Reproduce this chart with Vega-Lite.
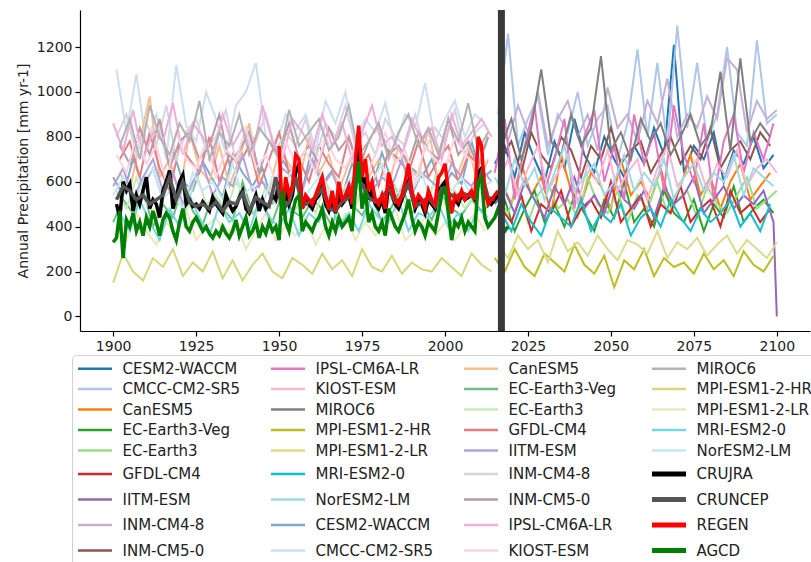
{
  "$schema": "https://vega.github.io/schema/vega-lite/v6.json",
  "width": 730,
  "height": 321,
  "autosize": {"type": "none"},
  "padding": {"left": 80, "top": 10, "right": 1, "bottom": 231},
  "config": {
    "font": "DejaVu Sans",
    "view": {"stroke": null},
    "axis": {"grid": false, "domainColor": "#000000", "tickColor": "#000000", "labelColor": "#222222", "labelFontSize": 14, "tickSize": 5, "domainWidth": 1.2, "tickWidth": 1.2, "labelPadding": 3}
  },
  "datasets": {
    "models": [
{"s":"CESM2-WACCM|h","x":1900,"y":620},{"s":"CESM2-WACCM|h","x":1903,"y":540},{"s":"CESM2-WACCM|h","x":1906,"y":700},{"s":"CESM2-WACCM|h","x":1909,"y":580},{"s":"CESM2-WACCM|h","x":1912,"y":660},{"s":"CESM2-WACCM|h","x":1915,"y":520},{"s":"CESM2-WACCM|h","x":1918,"y":740},{"s":"CESM2-WACCM|h","x":1921,"y":600},{"s":"CESM2-WACCM|h","x":1924,"y":560},{"s":"CESM2-WACCM|h","x":1927,"y":690},{"s":"CESM2-WACCM|h","x":1930,"y":610},{"s":"CESM2-WACCM|h","x":1933,"y":530},{"s":"CESM2-WACCM|h","x":1936,"y":720},{"s":"CESM2-WACCM|h","x":1939,"y":640},{"s":"CESM2-WACCM|h","x":1942,"y":580},{"s":"CESM2-WACCM|h","x":1945,"y":660},{"s":"CESM2-WACCM|h","x":1948,"y":500},{"s":"CESM2-WACCM|h","x":1951,"y":700},{"s":"CESM2-WACCM|h","x":1954,"y":620},{"s":"CESM2-WACCM|h","x":1957,"y":560},{"s":"CESM2-WACCM|h","x":1960,"y":760},{"s":"CESM2-WACCM|h","x":1963,"y":590},{"s":"CESM2-WACCM|h","x":1966,"y":650},{"s":"CESM2-WACCM|h","x":1969,"y":540},{"s":"CESM2-WACCM|h","x":1972,"y":680},{"s":"CESM2-WACCM|h","x":1975,"y":610},{"s":"CESM2-WACCM|h","x":1978,"y":570},{"s":"CESM2-WACCM|h","x":1981,"y":730},{"s":"CESM2-WACCM|h","x":1984,"y":600},{"s":"CESM2-WACCM|h","x":1987,"y":520},{"s":"CESM2-WACCM|h","x":1990,"y":660},{"s":"CESM2-WACCM|h","x":1993,"y":620},{"s":"CESM2-WACCM|h","x":1996,"y":700},{"s":"CESM2-WACCM|h","x":1999,"y":560},{"s":"CESM2-WACCM|h","x":2002,"y":640},{"s":"CESM2-WACCM|h","x":2005,"y":590},{"s":"CESM2-WACCM|h","x":2008,"y":780},{"s":"CESM2-WACCM|h","x":2011,"y":610},{"s":"CESM2-WACCM|h","x":2014,"y":650},
{"s":"CMCC-CM2-SR5|h","x":1901,"y":1100},{"s":"CMCC-CM2-SR5|h","x":1904,"y":820},{"s":"CMCC-CM2-SR5|h","x":1907,"y":1080},{"s":"CMCC-CM2-SR5|h","x":1910,"y":760},{"s":"CMCC-CM2-SR5|h","x":1913,"y":900},{"s":"CMCC-CM2-SR5|h","x":1916,"y":700},{"s":"CMCC-CM2-SR5|h","x":1919,"y":1120},{"s":"CMCC-CM2-SR5|h","x":1922,"y":850},{"s":"CMCC-CM2-SR5|h","x":1925,"y":780},{"s":"CMCC-CM2-SR5|h","x":1928,"y":1000},{"s":"CMCC-CM2-SR5|h","x":1931,"y":880},{"s":"CMCC-CM2-SR5|h","x":1934,"y":720},{"s":"CMCC-CM2-SR5|h","x":1937,"y":940},{"s":"CMCC-CM2-SR5|h","x":1940,"y":1000},{"s":"CMCC-CM2-SR5|h","x":1943,"y":1130},{"s":"CMCC-CM2-SR5|h","x":1946,"y":800},{"s":"CMCC-CM2-SR5|h","x":1949,"y":760},{"s":"CMCC-CM2-SR5|h","x":1952,"y":900},{"s":"CMCC-CM2-SR5|h","x":1955,"y":830},{"s":"CMCC-CM2-SR5|h","x":1958,"y":900},{"s":"CMCC-CM2-SR5|h","x":1961,"y":740},{"s":"CMCC-CM2-SR5|h","x":1964,"y":960},{"s":"CMCC-CM2-SR5|h","x":1967,"y":860},{"s":"CMCC-CM2-SR5|h","x":1970,"y":1000},{"s":"CMCC-CM2-SR5|h","x":1973,"y":780},{"s":"CMCC-CM2-SR5|h","x":1976,"y":880},{"s":"CMCC-CM2-SR5|h","x":1979,"y":820},{"s":"CMCC-CM2-SR5|h","x":1982,"y":950},{"s":"CMCC-CM2-SR5|h","x":1985,"y":760},{"s":"CMCC-CM2-SR5|h","x":1988,"y":900},{"s":"CMCC-CM2-SR5|h","x":1991,"y":840},{"s":"CMCC-CM2-SR5|h","x":1994,"y":1040},{"s":"CMCC-CM2-SR5|h","x":1997,"y":780},{"s":"CMCC-CM2-SR5|h","x":2000,"y":880},{"s":"CMCC-CM2-SR5|h","x":2003,"y":960},{"s":"CMCC-CM2-SR5|h","x":2006,"y":800},{"s":"CMCC-CM2-SR5|h","x":2009,"y":900},{"s":"CMCC-CM2-SR5|h","x":2012,"y":860},
{"s":"CanESM5|h","x":1902,"y":640},{"s":"CanESM5|h","x":1905,"y":560},{"s":"CanESM5|h","x":1908,"y":780},{"s":"CanESM5|h","x":1911,"y":980},{"s":"CanESM5|h","x":1914,"y":620},{"s":"CanESM5|h","x":1917,"y":700},{"s":"CanESM5|h","x":1920,"y":540},{"s":"CanESM5|h","x":1923,"y":820},{"s":"CanESM5|h","x":1926,"y":660},{"s":"CanESM5|h","x":1929,"y":600},{"s":"CanESM5|h","x":1932,"y":760},{"s":"CanESM5|h","x":1935,"y":580},{"s":"CanESM5|h","x":1938,"y":700},{"s":"CanESM5|h","x":1941,"y":860},{"s":"CanESM5|h","x":1944,"y":620},{"s":"CanESM5|h","x":1947,"y":560},{"s":"CanESM5|h","x":1950,"y":740},{"s":"CanESM5|h","x":1953,"y":680},{"s":"CanESM5|h","x":1956,"y":600},{"s":"CanESM5|h","x":1959,"y":800},{"s":"CanESM5|h","x":1962,"y":640},{"s":"CanESM5|h","x":1965,"y":720},{"s":"CanESM5|h","x":1968,"y":560},{"s":"CanESM5|h","x":1971,"y":680},{"s":"CanESM5|h","x":1974,"y":780},{"s":"CanESM5|h","x":1977,"y":620},{"s":"CanESM5|h","x":1980,"y":700},{"s":"CanESM5|h","x":1983,"y":580},{"s":"CanESM5|h","x":1986,"y":760},{"s":"CanESM5|h","x":1989,"y":660},{"s":"CanESM5|h","x":1992,"y":620},{"s":"CanESM5|h","x":1995,"y":840},{"s":"CanESM5|h","x":1998,"y":600},{"s":"CanESM5|h","x":2001,"y":700},{"s":"CanESM5|h","x":2004,"y":640},{"s":"CanESM5|h","x":2007,"y":760},{"s":"CanESM5|h","x":2010,"y":580},{"s":"CanESM5|h","x":2013,"y":700},
{"s":"EC-Earth3-Veg|h","x":1900,"y":420},{"s":"EC-Earth3-Veg|h","x":1903,"y":520},{"s":"EC-Earth3-Veg|h","x":1906,"y":460},{"s":"EC-Earth3-Veg|h","x":1909,"y":560},{"s":"EC-Earth3-Veg|h","x":1912,"y":400},{"s":"EC-Earth3-Veg|h","x":1915,"y":500},{"s":"EC-Earth3-Veg|h","x":1918,"y":440},{"s":"EC-Earth3-Veg|h","x":1921,"y":580},{"s":"EC-Earth3-Veg|h","x":1924,"y":470},{"s":"EC-Earth3-Veg|h","x":1927,"y":410},{"s":"EC-Earth3-Veg|h","x":1930,"y":540},{"s":"EC-Earth3-Veg|h","x":1933,"y":480},{"s":"EC-Earth3-Veg|h","x":1936,"y":430},{"s":"EC-Earth3-Veg|h","x":1939,"y":600},{"s":"EC-Earth3-Veg|h","x":1942,"y":460},{"s":"EC-Earth3-Veg|h","x":1945,"y":500},{"s":"EC-Earth3-Veg|h","x":1948,"y":420},{"s":"EC-Earth3-Veg|h","x":1951,"y":550},{"s":"EC-Earth3-Veg|h","x":1954,"y":470},{"s":"EC-Earth3-Veg|h","x":1957,"y":440},{"s":"EC-Earth3-Veg|h","x":1960,"y":520},{"s":"EC-Earth3-Veg|h","x":1963,"y":480},{"s":"EC-Earth3-Veg|h","x":1966,"y":400},{"s":"EC-Earth3-Veg|h","x":1969,"y":560},{"s":"EC-Earth3-Veg|h","x":1972,"y":500},{"s":"EC-Earth3-Veg|h","x":1975,"y":450},{"s":"EC-Earth3-Veg|h","x":1978,"y":530},{"s":"EC-Earth3-Veg|h","x":1981,"y":420},{"s":"EC-Earth3-Veg|h","x":1984,"y":490},{"s":"EC-Earth3-Veg|h","x":1987,"y":580},{"s":"EC-Earth3-Veg|h","x":1990,"y":460},{"s":"EC-Earth3-Veg|h","x":1993,"y":510},{"s":"EC-Earth3-Veg|h","x":1996,"y":430},{"s":"EC-Earth3-Veg|h","x":1999,"y":540},{"s":"EC-Earth3-Veg|h","x":2002,"y":480},{"s":"EC-Earth3-Veg|h","x":2005,"y":450},{"s":"EC-Earth3-Veg|h","x":2008,"y":520},{"s":"EC-Earth3-Veg|h","x":2011,"y":470},{"s":"EC-Earth3-Veg|h","x":2014,"y":500},
{"s":"EC-Earth3|h","x":1901,"y":560},{"s":"EC-Earth3|h","x":1904,"y":480},{"s":"EC-Earth3|h","x":1907,"y":620},{"s":"EC-Earth3|h","x":1910,"y":500},{"s":"EC-Earth3|h","x":1913,"y":440},{"s":"EC-Earth3|h","x":1916,"y":580},{"s":"EC-Earth3|h","x":1919,"y":520},{"s":"EC-Earth3|h","x":1922,"y":460},{"s":"EC-Earth3|h","x":1925,"y":640},{"s":"EC-Earth3|h","x":1928,"y":500},{"s":"EC-Earth3|h","x":1931,"y":540},{"s":"EC-Earth3|h","x":1934,"y":470},{"s":"EC-Earth3|h","x":1937,"y":600},{"s":"EC-Earth3|h","x":1940,"y":520},{"s":"EC-Earth3|h","x":1943,"y":450},{"s":"EC-Earth3|h","x":1946,"y":580},{"s":"EC-Earth3|h","x":1949,"y":500},{"s":"EC-Earth3|h","x":1952,"y":620},{"s":"EC-Earth3|h","x":1955,"y":480},{"s":"EC-Earth3|h","x":1958,"y":540},{"s":"EC-Earth3|h","x":1961,"y":460},{"s":"EC-Earth3|h","x":1964,"y":600},{"s":"EC-Earth3|h","x":1967,"y":510},{"s":"EC-Earth3|h","x":1970,"y":560},{"s":"EC-Earth3|h","x":1973,"y":480},{"s":"EC-Earth3|h","x":1976,"y":640},{"s":"EC-Earth3|h","x":1979,"y":520},{"s":"EC-Earth3|h","x":1982,"y":470},{"s":"EC-Earth3|h","x":1985,"y":580},{"s":"EC-Earth3|h","x":1988,"y":500},{"s":"EC-Earth3|h","x":1991,"y":540},{"s":"EC-Earth3|h","x":1994,"y":460},{"s":"EC-Earth3|h","x":1997,"y":620},{"s":"EC-Earth3|h","x":2000,"y":500},{"s":"EC-Earth3|h","x":2003,"y":560},{"s":"EC-Earth3|h","x":2006,"y":480},{"s":"EC-Earth3|h","x":2009,"y":540},{"s":"EC-Earth3|h","x":2012,"y":600},
{"s":"GFDL-CM4|h","x":1902,"y":700},{"s":"GFDL-CM4|h","x":1905,"y":780},{"s":"GFDL-CM4|h","x":1908,"y":620},{"s":"GFDL-CM4|h","x":1911,"y":820},{"s":"GFDL-CM4|h","x":1914,"y":660},{"s":"GFDL-CM4|h","x":1917,"y":560},{"s":"GFDL-CM4|h","x":1920,"y":760},{"s":"GFDL-CM4|h","x":1923,"y":700},{"s":"GFDL-CM4|h","x":1926,"y":640},{"s":"GFDL-CM4|h","x":1929,"y":800},{"s":"GFDL-CM4|h","x":1932,"y":600},{"s":"GFDL-CM4|h","x":1935,"y":720},{"s":"GFDL-CM4|h","x":1938,"y":680},{"s":"GFDL-CM4|h","x":1941,"y":760},{"s":"GFDL-CM4|h","x":1944,"y":580},{"s":"GFDL-CM4|h","x":1947,"y":700},{"s":"GFDL-CM4|h","x":1950,"y":820},{"s":"GFDL-CM4|h","x":1953,"y":640},{"s":"GFDL-CM4|h","x":1956,"y":700},{"s":"GFDL-CM4|h","x":1959,"y":600},{"s":"GFDL-CM4|h","x":1962,"y":760},{"s":"GFDL-CM4|h","x":1965,"y":680},{"s":"GFDL-CM4|h","x":1968,"y":620},{"s":"GFDL-CM4|h","x":1971,"y":800},{"s":"GFDL-CM4|h","x":1974,"y":660},{"s":"GFDL-CM4|h","x":1977,"y":720},{"s":"GFDL-CM4|h","x":1980,"y":580},{"s":"GFDL-CM4|h","x":1983,"y":740},{"s":"GFDL-CM4|h","x":1986,"y":700},{"s":"GFDL-CM4|h","x":1989,"y":640},{"s":"GFDL-CM4|h","x":1992,"y":780},{"s":"GFDL-CM4|h","x":1995,"y":620},{"s":"GFDL-CM4|h","x":1998,"y":700},{"s":"GFDL-CM4|h","x":2001,"y":760},{"s":"GFDL-CM4|h","x":2004,"y":600},{"s":"GFDL-CM4|h","x":2007,"y":720},{"s":"GFDL-CM4|h","x":2010,"y":680},{"s":"GFDL-CM4|h","x":2013,"y":800},
{"s":"IITM-ESM|h","x":1900,"y":580},{"s":"IITM-ESM|h","x":1903,"y":660},{"s":"IITM-ESM|h","x":1906,"y":520},{"s":"IITM-ESM|h","x":1909,"y":620},{"s":"IITM-ESM|h","x":1912,"y":700},{"s":"IITM-ESM|h","x":1915,"y":560},{"s":"IITM-ESM|h","x":1918,"y":640},{"s":"IITM-ESM|h","x":1921,"y":500},{"s":"IITM-ESM|h","x":1924,"y":600},{"s":"IITM-ESM|h","x":1927,"y":680},{"s":"IITM-ESM|h","x":1930,"y":540},{"s":"IITM-ESM|h","x":1933,"y":620},{"s":"IITM-ESM|h","x":1936,"y":580},{"s":"IITM-ESM|h","x":1939,"y":720},{"s":"IITM-ESM|h","x":1942,"y":560},{"s":"IITM-ESM|h","x":1945,"y":600},{"s":"IITM-ESM|h","x":1948,"y":520},{"s":"IITM-ESM|h","x":1951,"y":660},{"s":"IITM-ESM|h","x":1954,"y":620},{"s":"IITM-ESM|h","x":1957,"y":560},{"s":"IITM-ESM|h","x":1960,"y":700},{"s":"IITM-ESM|h","x":1963,"y":580},{"s":"IITM-ESM|h","x":1966,"y":640},{"s":"IITM-ESM|h","x":1969,"y":520},{"s":"IITM-ESM|h","x":1972,"y":600},{"s":"IITM-ESM|h","x":1975,"y":680},{"s":"IITM-ESM|h","x":1978,"y":560},{"s":"IITM-ESM|h","x":1981,"y":620},{"s":"IITM-ESM|h","x":1984,"y":580},{"s":"IITM-ESM|h","x":1987,"y":700},{"s":"IITM-ESM|h","x":1990,"y":540},{"s":"IITM-ESM|h","x":1993,"y":640},{"s":"IITM-ESM|h","x":1996,"y":600},{"s":"IITM-ESM|h","x":1999,"y":560},{"s":"IITM-ESM|h","x":2002,"y":680},{"s":"IITM-ESM|h","x":2005,"y":620},{"s":"IITM-ESM|h","x":2008,"y":580},{"s":"IITM-ESM|h","x":2011,"y":660},{"s":"IITM-ESM|h","x":2014,"y":600},
{"s":"INM-CM4-8|h","x":1901,"y":800},{"s":"INM-CM4-8|h","x":1904,"y":900},{"s":"INM-CM4-8|h","x":1907,"y":720},{"s":"INM-CM4-8|h","x":1910,"y":860},{"s":"INM-CM4-8|h","x":1913,"y":760},{"s":"INM-CM4-8|h","x":1916,"y":940},{"s":"INM-CM4-8|h","x":1919,"y":700},{"s":"INM-CM4-8|h","x":1922,"y":820},{"s":"INM-CM4-8|h","x":1925,"y":880},{"s":"INM-CM4-8|h","x":1928,"y":740},{"s":"INM-CM4-8|h","x":1931,"y":800},{"s":"INM-CM4-8|h","x":1934,"y":920},{"s":"INM-CM4-8|h","x":1937,"y":680},{"s":"INM-CM4-8|h","x":1940,"y":840},{"s":"INM-CM4-8|h","x":1943,"y":780},{"s":"INM-CM4-8|h","x":1946,"y":900},{"s":"INM-CM4-8|h","x":1949,"y":740},{"s":"INM-CM4-8|h","x":1952,"y":820},{"s":"INM-CM4-8|h","x":1955,"y":760},{"s":"INM-CM4-8|h","x":1958,"y":880},{"s":"INM-CM4-8|h","x":1961,"y":700},{"s":"INM-CM4-8|h","x":1964,"y":860},{"s":"INM-CM4-8|h","x":1967,"y":800},{"s":"INM-CM4-8|h","x":1970,"y":940},{"s":"INM-CM4-8|h","x":1973,"y":760},{"s":"INM-CM4-8|h","x":1976,"y":820},{"s":"INM-CM4-8|h","x":1979,"y":720},{"s":"INM-CM4-8|h","x":1982,"y":880},{"s":"INM-CM4-8|h","x":1985,"y":800},{"s":"INM-CM4-8|h","x":1988,"y":760},{"s":"INM-CM4-8|h","x":1991,"y":900},{"s":"INM-CM4-8|h","x":1994,"y":740},{"s":"INM-CM4-8|h","x":1997,"y":840},{"s":"INM-CM4-8|h","x":2000,"y":780},{"s":"INM-CM4-8|h","x":2003,"y":920},{"s":"INM-CM4-8|h","x":2006,"y":720},{"s":"INM-CM4-8|h","x":2009,"y":820},{"s":"INM-CM4-8|h","x":2012,"y":860},
{"s":"INM-CM5-0|h","x":1902,"y":760},{"s":"INM-CM5-0|h","x":1905,"y":680},{"s":"INM-CM5-0|h","x":1908,"y":840},{"s":"INM-CM5-0|h","x":1911,"y":720},{"s":"INM-CM5-0|h","x":1914,"y":880},{"s":"INM-CM5-0|h","x":1917,"y":660},{"s":"INM-CM5-0|h","x":1920,"y":780},{"s":"INM-CM5-0|h","x":1923,"y":820},{"s":"INM-CM5-0|h","x":1926,"y":700},{"s":"INM-CM5-0|h","x":1929,"y":760},{"s":"INM-CM5-0|h","x":1932,"y":900},{"s":"INM-CM5-0|h","x":1935,"y":680},{"s":"INM-CM5-0|h","x":1938,"y":740},{"s":"INM-CM5-0|h","x":1941,"y":820},{"s":"INM-CM5-0|h","x":1944,"y":640},{"s":"INM-CM5-0|h","x":1947,"y":780},{"s":"INM-CM5-0|h","x":1950,"y":720},{"s":"INM-CM5-0|h","x":1953,"y":860},{"s":"INM-CM5-0|h","x":1956,"y":700},{"s":"INM-CM5-0|h","x":1959,"y":760},{"s":"INM-CM5-0|h","x":1962,"y":680},{"s":"INM-CM5-0|h","x":1965,"y":840},{"s":"INM-CM5-0|h","x":1968,"y":740},{"s":"INM-CM5-0|h","x":1971,"y":800},{"s":"INM-CM5-0|h","x":1974,"y":660},{"s":"INM-CM5-0|h","x":1977,"y":780},{"s":"INM-CM5-0|h","x":1980,"y":860},{"s":"INM-CM5-0|h","x":1983,"y":720},{"s":"INM-CM5-0|h","x":1986,"y":760},{"s":"INM-CM5-0|h","x":1989,"y":680},{"s":"INM-CM5-0|h","x":1992,"y":820},{"s":"INM-CM5-0|h","x":1995,"y":740},{"s":"INM-CM5-0|h","x":1998,"y":700},{"s":"INM-CM5-0|h","x":2001,"y":880},{"s":"INM-CM5-0|h","x":2004,"y":720},{"s":"INM-CM5-0|h","x":2007,"y":780},{"s":"INM-CM5-0|h","x":2010,"y":660},{"s":"INM-CM5-0|h","x":2013,"y":800},
{"s":"IPSL-CM6A-LR|h","x":1900,"y":860},{"s":"IPSL-CM6A-LR|h","x":1903,"y":740},{"s":"IPSL-CM6A-LR|h","x":1906,"y":920},{"s":"IPSL-CM6A-LR|h","x":1909,"y":700},{"s":"IPSL-CM6A-LR|h","x":1912,"y":820},{"s":"IPSL-CM6A-LR|h","x":1915,"y":780},{"s":"IPSL-CM6A-LR|h","x":1918,"y":950},{"s":"IPSL-CM6A-LR|h","x":1921,"y":720},{"s":"IPSL-CM6A-LR|h","x":1924,"y":860},{"s":"IPSL-CM6A-LR|h","x":1927,"y":800},{"s":"IPSL-CM6A-LR|h","x":1930,"y":680},{"s":"IPSL-CM6A-LR|h","x":1933,"y":900},{"s":"IPSL-CM6A-LR|h","x":1936,"y":760},{"s":"IPSL-CM6A-LR|h","x":1939,"y":840},{"s":"IPSL-CM6A-LR|h","x":1942,"y":720},{"s":"IPSL-CM6A-LR|h","x":1945,"y":940},{"s":"IPSL-CM6A-LR|h","x":1948,"y":780},{"s":"IPSL-CM6A-LR|h","x":1951,"y":700},{"s":"IPSL-CM6A-LR|h","x":1954,"y":880},{"s":"IPSL-CM6A-LR|h","x":1957,"y":820},{"s":"IPSL-CM6A-LR|h","x":1960,"y":740},{"s":"IPSL-CM6A-LR|h","x":1963,"y":900},{"s":"IPSL-CM6A-LR|h","x":1966,"y":760},{"s":"IPSL-CM6A-LR|h","x":1969,"y":860},{"s":"IPSL-CM6A-LR|h","x":1972,"y":700},{"s":"IPSL-CM6A-LR|h","x":1975,"y":820},{"s":"IPSL-CM6A-LR|h","x":1978,"y":940},{"s":"IPSL-CM6A-LR|h","x":1981,"y":760},{"s":"IPSL-CM6A-LR|h","x":1984,"y":800},{"s":"IPSL-CM6A-LR|h","x":1987,"y":720},{"s":"IPSL-CM6A-LR|h","x":1990,"y":880},{"s":"IPSL-CM6A-LR|h","x":1993,"y":780},{"s":"IPSL-CM6A-LR|h","x":1996,"y":840},{"s":"IPSL-CM6A-LR|h","x":1999,"y":700},{"s":"IPSL-CM6A-LR|h","x":2002,"y":900},{"s":"IPSL-CM6A-LR|h","x":2005,"y":760},{"s":"IPSL-CM6A-LR|h","x":2008,"y":820},{"s":"IPSL-CM6A-LR|h","x":2011,"y":880},{"s":"IPSL-CM6A-LR|h","x":2014,"y":800},
{"s":"KIOST-ESM|h","x":1901,"y":720},{"s":"KIOST-ESM|h","x":1904,"y":640},{"s":"KIOST-ESM|h","x":1907,"y":800},{"s":"KIOST-ESM|h","x":1910,"y":680},{"s":"KIOST-ESM|h","x":1913,"y":760},{"s":"KIOST-ESM|h","x":1916,"y":600},{"s":"KIOST-ESM|h","x":1919,"y":820},{"s":"KIOST-ESM|h","x":1922,"y":700},{"s":"KIOST-ESM|h","x":1925,"y":660},{"s":"KIOST-ESM|h","x":1928,"y":780},{"s":"KIOST-ESM|h","x":1931,"y":620},{"s":"KIOST-ESM|h","x":1934,"y":740},{"s":"KIOST-ESM|h","x":1937,"y":700},{"s":"KIOST-ESM|h","x":1940,"y":840},{"s":"KIOST-ESM|h","x":1943,"y":660},{"s":"KIOST-ESM|h","x":1946,"y":720},{"s":"KIOST-ESM|h","x":1949,"y":600},{"s":"KIOST-ESM|h","x":1952,"y":780},{"s":"KIOST-ESM|h","x":1955,"y":680},{"s":"KIOST-ESM|h","x":1958,"y":740},{"s":"KIOST-ESM|h","x":1961,"y":640},{"s":"KIOST-ESM|h","x":1964,"y":800},{"s":"KIOST-ESM|h","x":1967,"y":700},{"s":"KIOST-ESM|h","x":1970,"y":660},{"s":"KIOST-ESM|h","x":1973,"y":760},{"s":"KIOST-ESM|h","x":1976,"y":620},{"s":"KIOST-ESM|h","x":1979,"y":720},{"s":"KIOST-ESM|h","x":1982,"y":820},{"s":"KIOST-ESM|h","x":1985,"y":680},{"s":"KIOST-ESM|h","x":1988,"y":740},{"s":"KIOST-ESM|h","x":1991,"y":600},{"s":"KIOST-ESM|h","x":1994,"y":760},{"s":"KIOST-ESM|h","x":1997,"y":700},{"s":"KIOST-ESM|h","x":2000,"y":660},{"s":"KIOST-ESM|h","x":2003,"y":800},{"s":"KIOST-ESM|h","x":2006,"y":720},{"s":"KIOST-ESM|h","x":2009,"y":680},{"s":"KIOST-ESM|h","x":2012,"y":740},
{"s":"MIROC6|h","x":1902,"y":760},{"s":"MIROC6|h","x":1905,"y":880},{"s":"MIROC6|h","x":1908,"y":700},{"s":"MIROC6|h","x":1911,"y":940},{"s":"MIROC6|h","x":1914,"y":800},{"s":"MIROC6|h","x":1917,"y":720},{"s":"MIROC6|h","x":1920,"y":860},{"s":"MIROC6|h","x":1923,"y":780},{"s":"MIROC6|h","x":1926,"y":960},{"s":"MIROC6|h","x":1929,"y":700},{"s":"MIROC6|h","x":1932,"y":820},{"s":"MIROC6|h","x":1935,"y":760},{"s":"MIROC6|h","x":1938,"y":900},{"s":"MIROC6|h","x":1941,"y":720},{"s":"MIROC6|h","x":1944,"y":840},{"s":"MIROC6|h","x":1947,"y":780},{"s":"MIROC6|h","x":1950,"y":700},{"s":"MIROC6|h","x":1953,"y":920},{"s":"MIROC6|h","x":1956,"y":760},{"s":"MIROC6|h","x":1959,"y":820},{"s":"MIROC6|h","x":1962,"y":880},{"s":"MIROC6|h","x":1965,"y":740},{"s":"MIROC6|h","x":1968,"y":800},{"s":"MIROC6|h","x":1971,"y":940},{"s":"MIROC6|h","x":1974,"y":720},{"s":"MIROC6|h","x":1977,"y":780},{"s":"MIROC6|h","x":1980,"y":860},{"s":"MIROC6|h","x":1983,"y":700},{"s":"MIROC6|h","x":1986,"y":820},{"s":"MIROC6|h","x":1989,"y":900},{"s":"MIROC6|h","x":1992,"y":760},{"s":"MIROC6|h","x":1995,"y":840},{"s":"MIROC6|h","x":1998,"y":720},{"s":"MIROC6|h","x":2001,"y":880},{"s":"MIROC6|h","x":2004,"y":780},{"s":"MIROC6|h","x":2007,"y":950},{"s":"MIROC6|h","x":2010,"y":740},{"s":"MIROC6|h","x":2013,"y":820},
{"s":"MPI-ESM1-2-HR|h","x":1900,"y":150},{"s":"MPI-ESM1-2-HR|h","x":1903,"y":280},{"s":"MPI-ESM1-2-HR|h","x":1906,"y":200},{"s":"MPI-ESM1-2-HR|h","x":1909,"y":160},{"s":"MPI-ESM1-2-HR|h","x":1912,"y":260},{"s":"MPI-ESM1-2-HR|h","x":1915,"y":220},{"s":"MPI-ESM1-2-HR|h","x":1918,"y":300},{"s":"MPI-ESM1-2-HR|h","x":1921,"y":180},{"s":"MPI-ESM1-2-HR|h","x":1924,"y":240},{"s":"MPI-ESM1-2-HR|h","x":1927,"y":200},{"s":"MPI-ESM1-2-HR|h","x":1930,"y":290},{"s":"MPI-ESM1-2-HR|h","x":1933,"y":170},{"s":"MPI-ESM1-2-HR|h","x":1936,"y":250},{"s":"MPI-ESM1-2-HR|h","x":1939,"y":160},{"s":"MPI-ESM1-2-HR|h","x":1942,"y":230},{"s":"MPI-ESM1-2-HR|h","x":1945,"y":280},{"s":"MPI-ESM1-2-HR|h","x":1948,"y":200},{"s":"MPI-ESM1-2-HR|h","x":1951,"y":170},{"s":"MPI-ESM1-2-HR|h","x":1954,"y":260},{"s":"MPI-ESM1-2-HR|h","x":1957,"y":230},{"s":"MPI-ESM1-2-HR|h","x":1960,"y":190},{"s":"MPI-ESM1-2-HR|h","x":1963,"y":280},{"s":"MPI-ESM1-2-HR|h","x":1966,"y":210},{"s":"MPI-ESM1-2-HR|h","x":1969,"y":250},{"s":"MPI-ESM1-2-HR|h","x":1972,"y":180},{"s":"MPI-ESM1-2-HR|h","x":1975,"y":300},{"s":"MPI-ESM1-2-HR|h","x":1978,"y":220},{"s":"MPI-ESM1-2-HR|h","x":1981,"y":200},{"s":"MPI-ESM1-2-HR|h","x":1984,"y":270},{"s":"MPI-ESM1-2-HR|h","x":1987,"y":190},{"s":"MPI-ESM1-2-HR|h","x":1990,"y":240},{"s":"MPI-ESM1-2-HR|h","x":1993,"y":210},{"s":"MPI-ESM1-2-HR|h","x":1996,"y":200},{"s":"MPI-ESM1-2-HR|h","x":1999,"y":260},{"s":"MPI-ESM1-2-HR|h","x":2002,"y":220},{"s":"MPI-ESM1-2-HR|h","x":2005,"y":180},{"s":"MPI-ESM1-2-HR|h","x":2008,"y":280},{"s":"MPI-ESM1-2-HR|h","x":2011,"y":230},{"s":"MPI-ESM1-2-HR|h","x":2014,"y":200},
{"s":"MPI-ESM1-2-LR|h","x":1901,"y":400},{"s":"MPI-ESM1-2-LR|h","x":1904,"y":340},{"s":"MPI-ESM1-2-LR|h","x":1907,"y":460},{"s":"MPI-ESM1-2-LR|h","x":1910,"y":380},{"s":"MPI-ESM1-2-LR|h","x":1913,"y":320},{"s":"MPI-ESM1-2-LR|h","x":1916,"y":420},{"s":"MPI-ESM1-2-LR|h","x":1919,"y":360},{"s":"MPI-ESM1-2-LR|h","x":1922,"y":480},{"s":"MPI-ESM1-2-LR|h","x":1925,"y":340},{"s":"MPI-ESM1-2-LR|h","x":1928,"y":400},{"s":"MPI-ESM1-2-LR|h","x":1931,"y":440},{"s":"MPI-ESM1-2-LR|h","x":1934,"y":360},{"s":"MPI-ESM1-2-LR|h","x":1937,"y":420},{"s":"MPI-ESM1-2-LR|h","x":1940,"y":300},{"s":"MPI-ESM1-2-LR|h","x":1943,"y":380},{"s":"MPI-ESM1-2-LR|h","x":1946,"y":460},{"s":"MPI-ESM1-2-LR|h","x":1949,"y":340},{"s":"MPI-ESM1-2-LR|h","x":1952,"y":400},{"s":"MPI-ESM1-2-LR|h","x":1955,"y":360},{"s":"MPI-ESM1-2-LR|h","x":1958,"y":440},{"s":"MPI-ESM1-2-LR|h","x":1961,"y":320},{"s":"MPI-ESM1-2-LR|h","x":1964,"y":400},{"s":"MPI-ESM1-2-LR|h","x":1967,"y":380},{"s":"MPI-ESM1-2-LR|h","x":1970,"y":460},{"s":"MPI-ESM1-2-LR|h","x":1973,"y":340},{"s":"MPI-ESM1-2-LR|h","x":1976,"y":420},{"s":"MPI-ESM1-2-LR|h","x":1979,"y":360},{"s":"MPI-ESM1-2-LR|h","x":1982,"y":400},{"s":"MPI-ESM1-2-LR|h","x":1985,"y":480},{"s":"MPI-ESM1-2-LR|h","x":1988,"y":340},{"s":"MPI-ESM1-2-LR|h","x":1991,"y":380},{"s":"MPI-ESM1-2-LR|h","x":1994,"y":440},{"s":"MPI-ESM1-2-LR|h","x":1997,"y":360},{"s":"MPI-ESM1-2-LR|h","x":2000,"y":420},{"s":"MPI-ESM1-2-LR|h","x":2003,"y":340},{"s":"MPI-ESM1-2-LR|h","x":2006,"y":400},{"s":"MPI-ESM1-2-LR|h","x":2009,"y":460},{"s":"MPI-ESM1-2-LR|h","x":2012,"y":380},
{"s":"MRI-ESM2-0|h","x":1902,"y":460},{"s":"MRI-ESM2-0|h","x":1905,"y":380},{"s":"MRI-ESM2-0|h","x":1908,"y":520},{"s":"MRI-ESM2-0|h","x":1911,"y":420},{"s":"MRI-ESM2-0|h","x":1914,"y":340},{"s":"MRI-ESM2-0|h","x":1917,"y":480},{"s":"MRI-ESM2-0|h","x":1920,"y":400},{"s":"MRI-ESM2-0|h","x":1923,"y":540},{"s":"MRI-ESM2-0|h","x":1926,"y":440},{"s":"MRI-ESM2-0|h","x":1929,"y":360},{"s":"MRI-ESM2-0|h","x":1932,"y":500},{"s":"MRI-ESM2-0|h","x":1935,"y":420},{"s":"MRI-ESM2-0|h","x":1938,"y":460},{"s":"MRI-ESM2-0|h","x":1941,"y":380},{"s":"MRI-ESM2-0|h","x":1944,"y":520},{"s":"MRI-ESM2-0|h","x":1947,"y":440},{"s":"MRI-ESM2-0|h","x":1950,"y":400},{"s":"MRI-ESM2-0|h","x":1953,"y":480},{"s":"MRI-ESM2-0|h","x":1956,"y":360},{"s":"MRI-ESM2-0|h","x":1959,"y":460},{"s":"MRI-ESM2-0|h","x":1962,"y":420},{"s":"MRI-ESM2-0|h","x":1965,"y":540},{"s":"MRI-ESM2-0|h","x":1968,"y":400},{"s":"MRI-ESM2-0|h","x":1971,"y":460},{"s":"MRI-ESM2-0|h","x":1974,"y":380},{"s":"MRI-ESM2-0|h","x":1977,"y":500},{"s":"MRI-ESM2-0|h","x":1980,"y":440},{"s":"MRI-ESM2-0|h","x":1983,"y":420},{"s":"MRI-ESM2-0|h","x":1986,"y":520},{"s":"MRI-ESM2-0|h","x":1989,"y":380},{"s":"MRI-ESM2-0|h","x":1992,"y":460},{"s":"MRI-ESM2-0|h","x":1995,"y":440},{"s":"MRI-ESM2-0|h","x":1998,"y":500},{"s":"MRI-ESM2-0|h","x":2001,"y":400},{"s":"MRI-ESM2-0|h","x":2004,"y":460},{"s":"MRI-ESM2-0|h","x":2007,"y":380},{"s":"MRI-ESM2-0|h","x":2010,"y":480},{"s":"MRI-ESM2-0|h","x":2013,"y":440},
{"s":"NorESM2-LM|h","x":1900,"y":540},{"s":"NorESM2-LM|h","x":1903,"y":620},{"s":"NorESM2-LM|h","x":1906,"y":500},{"s":"NorESM2-LM|h","x":1909,"y":600},{"s":"NorESM2-LM|h","x":1912,"y":660},{"s":"NorESM2-LM|h","x":1915,"y":520},{"s":"NorESM2-LM|h","x":1918,"y":580},{"s":"NorESM2-LM|h","x":1921,"y":480},{"s":"NorESM2-LM|h","x":1924,"y":640},{"s":"NorESM2-LM|h","x":1927,"y":560},{"s":"NorESM2-LM|h","x":1930,"y":600},{"s":"NorESM2-LM|h","x":1933,"y":520},{"s":"NorESM2-LM|h","x":1936,"y":680},{"s":"NorESM2-LM|h","x":1939,"y":540},{"s":"NorESM2-LM|h","x":1942,"y":580},{"s":"NorESM2-LM|h","x":1945,"y":500},{"s":"NorESM2-LM|h","x":1948,"y":620},{"s":"NorESM2-LM|h","x":1951,"y":560},{"s":"NorESM2-LM|h","x":1954,"y":660},{"s":"NorESM2-LM|h","x":1957,"y":520},{"s":"NorESM2-LM|h","x":1960,"y":580},{"s":"NorESM2-LM|h","x":1963,"y":640},{"s":"NorESM2-LM|h","x":1966,"y":500},{"s":"NorESM2-LM|h","x":1969,"y":560},{"s":"NorESM2-LM|h","x":1972,"y":620},{"s":"NorESM2-LM|h","x":1975,"y":540},{"s":"NorESM2-LM|h","x":1978,"y":600},{"s":"NorESM2-LM|h","x":1981,"y":680},{"s":"NorESM2-LM|h","x":1984,"y":520},{"s":"NorESM2-LM|h","x":1987,"y":580},{"s":"NorESM2-LM|h","x":1990,"y":560},{"s":"NorESM2-LM|h","x":1993,"y":640},{"s":"NorESM2-LM|h","x":1996,"y":500},{"s":"NorESM2-LM|h","x":1999,"y":600},{"s":"NorESM2-LM|h","x":2002,"y":560},{"s":"NorESM2-LM|h","x":2005,"y":620},{"s":"NorESM2-LM|h","x":2008,"y":540},{"s":"NorESM2-LM|h","x":2011,"y":580},{"s":"NorESM2-LM|h","x":2014,"y":600},
{"s":"CESM2-WACCM","x":2015,"y":680},{"s":"CESM2-WACCM","x":2018,"y":760},{"s":"CESM2-WACCM","x":2021,"y":620},{"s":"CESM2-WACCM","x":2024,"y":820},{"s":"CESM2-WACCM","x":2027,"y":700},{"s":"CESM2-WACCM","x":2030,"y":600},{"s":"CESM2-WACCM","x":2033,"y":780},{"s":"CESM2-WACCM","x":2036,"y":660},{"s":"CESM2-WACCM","x":2039,"y":880},{"s":"CESM2-WACCM","x":2042,"y":720},{"s":"CESM2-WACCM","x":2045,"y":640},{"s":"CESM2-WACCM","x":2048,"y":800},{"s":"CESM2-WACCM","x":2051,"y":700},{"s":"CESM2-WACCM","x":2054,"y":620},{"s":"CESM2-WACCM","x":2057,"y":760},{"s":"CESM2-WACCM","x":2060,"y":680},{"s":"CESM2-WACCM","x":2063,"y":840},{"s":"CESM2-WACCM","x":2066,"y":720},{"s":"CESM2-WACCM","x":2069,"y":1210},{"s":"CESM2-WACCM","x":2072,"y":640},{"s":"CESM2-WACCM","x":2075,"y":760},{"s":"CESM2-WACCM","x":2078,"y":700},{"s":"CESM2-WACCM","x":2081,"y":820},{"s":"CESM2-WACCM","x":2084,"y":600},{"s":"CESM2-WACCM","x":2087,"y":740},{"s":"CESM2-WACCM","x":2090,"y":680},{"s":"CESM2-WACCM","x":2093,"y":800},{"s":"CESM2-WACCM","x":2096,"y":660},{"s":"CESM2-WACCM","x":2099,"y":720},
{"s":"CMCC-CM2-SR5","x":2016,"y":900},{"s":"CMCC-CM2-SR5","x":2019,"y":1260},{"s":"CMCC-CM2-SR5","x":2022,"y":760},{"s":"CMCC-CM2-SR5","x":2025,"y":880},{"s":"CMCC-CM2-SR5","x":2028,"y":980},{"s":"CMCC-CM2-SR5","x":2031,"y":720},{"s":"CMCC-CM2-SR5","x":2034,"y":900},{"s":"CMCC-CM2-SR5","x":2037,"y":820},{"s":"CMCC-CM2-SR5","x":2040,"y":1000},{"s":"CMCC-CM2-SR5","x":2043,"y":760},{"s":"CMCC-CM2-SR5","x":2046,"y":880},{"s":"CMCC-CM2-SR5","x":2049,"y":940},{"s":"CMCC-CM2-SR5","x":2052,"y":700},{"s":"CMCC-CM2-SR5","x":2055,"y":860},{"s":"CMCC-CM2-SR5","x":2058,"y":1190},{"s":"CMCC-CM2-SR5","x":2061,"y":800},{"s":"CMCC-CM2-SR5","x":2064,"y":1130},{"s":"CMCC-CM2-SR5","x":2067,"y":760},{"s":"CMCC-CM2-SR5","x":2070,"y":1296},{"s":"CMCC-CM2-SR5","x":2073,"y":840},{"s":"CMCC-CM2-SR5","x":2076,"y":1130},{"s":"CMCC-CM2-SR5","x":2079,"y":780},{"s":"CMCC-CM2-SR5","x":2082,"y":900},{"s":"CMCC-CM2-SR5","x":2085,"y":1200},{"s":"CMCC-CM2-SR5","x":2088,"y":820},{"s":"CMCC-CM2-SR5","x":2091,"y":760},{"s":"CMCC-CM2-SR5","x":2094,"y":1230},{"s":"CMCC-CM2-SR5","x":2097,"y":860},{"s":"CMCC-CM2-SR5","x":2100,"y":900},
{"s":"CanESM5","x":2017,"y":600},{"s":"CanESM5","x":2020,"y":500},{"s":"CanESM5","x":2023,"y":680},{"s":"CanESM5","x":2026,"y":540},{"s":"CanESM5","x":2029,"y":620},{"s":"CanESM5","x":2032,"y":460},{"s":"CanESM5","x":2035,"y":720},{"s":"CanESM5","x":2038,"y":560},{"s":"CanESM5","x":2041,"y":500},{"s":"CanESM5","x":2044,"y":640},{"s":"CanESM5","x":2047,"y":580},{"s":"CanESM5","x":2050,"y":480},{"s":"CanESM5","x":2053,"y":700},{"s":"CanESM5","x":2056,"y":540},{"s":"CanESM5","x":2059,"y":600},{"s":"CanESM5","x":2062,"y":520},{"s":"CanESM5","x":2065,"y":660},{"s":"CanESM5","x":2068,"y":500},{"s":"CanESM5","x":2071,"y":580},{"s":"CanESM5","x":2074,"y":720},{"s":"CanESM5","x":2077,"y":540},{"s":"CanESM5","x":2080,"y":620},{"s":"CanESM5","x":2083,"y":480},{"s":"CanESM5","x":2086,"y":600},{"s":"CanESM5","x":2089,"y":680},{"s":"CanESM5","x":2092,"y":520},{"s":"CanESM5","x":2095,"y":580},{"s":"CanESM5","x":2098,"y":640},
{"s":"EC-Earth3-Veg","x":2015,"y":440},{"s":"EC-Earth3-Veg","x":2018,"y":520},{"s":"EC-Earth3-Veg","x":2021,"y":380},{"s":"EC-Earth3-Veg","x":2024,"y":480},{"s":"EC-Earth3-Veg","x":2027,"y":560},{"s":"EC-Earth3-Veg","x":2030,"y":420},{"s":"EC-Earth3-Veg","x":2033,"y":500},{"s":"EC-Earth3-Veg","x":2036,"y":400},{"s":"EC-Earth3-Veg","x":2039,"y":540},{"s":"EC-Earth3-Veg","x":2042,"y":460},{"s":"EC-Earth3-Veg","x":2045,"y":380},{"s":"EC-Earth3-Veg","x":2048,"y":520},{"s":"EC-Earth3-Veg","x":2051,"y":440},{"s":"EC-Earth3-Veg","x":2054,"y":600},{"s":"EC-Earth3-Veg","x":2057,"y":420},{"s":"EC-Earth3-Veg","x":2060,"y":480},{"s":"EC-Earth3-Veg","x":2063,"y":400},{"s":"EC-Earth3-Veg","x":2066,"y":560},{"s":"EC-Earth3-Veg","x":2069,"y":460},{"s":"EC-Earth3-Veg","x":2072,"y":420},{"s":"EC-Earth3-Veg","x":2075,"y":520},{"s":"EC-Earth3-Veg","x":2078,"y":380},{"s":"EC-Earth3-Veg","x":2081,"y":500},{"s":"EC-Earth3-Veg","x":2084,"y":440},{"s":"EC-Earth3-Veg","x":2087,"y":580},{"s":"EC-Earth3-Veg","x":2090,"y":420},{"s":"EC-Earth3-Veg","x":2093,"y":480},{"s":"EC-Earth3-Veg","x":2096,"y":520},{"s":"EC-Earth3-Veg","x":2099,"y":460},
{"s":"EC-Earth3","x":2016,"y":520},{"s":"EC-Earth3","x":2019,"y":460},{"s":"EC-Earth3","x":2022,"y":580},{"s":"EC-Earth3","x":2025,"y":420},{"s":"EC-Earth3","x":2028,"y":540},{"s":"EC-Earth3","x":2031,"y":600},{"s":"EC-Earth3","x":2034,"y":480},{"s":"EC-Earth3","x":2037,"y":520},{"s":"EC-Earth3","x":2040,"y":440},{"s":"EC-Earth3","x":2043,"y":620},{"s":"EC-Earth3","x":2046,"y":500},{"s":"EC-Earth3","x":2049,"y":460},{"s":"EC-Earth3","x":2052,"y":560},{"s":"EC-Earth3","x":2055,"y":420},{"s":"EC-Earth3","x":2058,"y":540},{"s":"EC-Earth3","x":2061,"y":480},{"s":"EC-Earth3","x":2064,"y":600},{"s":"EC-Earth3","x":2067,"y":460},{"s":"EC-Earth3","x":2070,"y":520},{"s":"EC-Earth3","x":2073,"y":560},{"s":"EC-Earth3","x":2076,"y":440},{"s":"EC-Earth3","x":2079,"y":580},{"s":"EC-Earth3","x":2082,"y":500},{"s":"EC-Earth3","x":2085,"y":460},{"s":"EC-Earth3","x":2088,"y":540},{"s":"EC-Earth3","x":2091,"y":620},{"s":"EC-Earth3","x":2094,"y":480},{"s":"EC-Earth3","x":2097,"y":520},{"s":"EC-Earth3","x":2100,"y":560},
{"s":"GFDL-CM4","x":2017,"y":480},{"s":"GFDL-CM4","x":2020,"y":420},{"s":"GFDL-CM4","x":2023,"y":540},{"s":"GFDL-CM4","x":2026,"y":380},{"s":"GFDL-CM4","x":2029,"y":500},{"s":"GFDL-CM4","x":2032,"y":460},{"s":"GFDL-CM4","x":2035,"y":560},{"s":"GFDL-CM4","x":2038,"y":400},{"s":"GFDL-CM4","x":2041,"y":480},{"s":"GFDL-CM4","x":2044,"y":520},{"s":"GFDL-CM4","x":2047,"y":440},{"s":"GFDL-CM4","x":2050,"y":600},{"s":"GFDL-CM4","x":2053,"y":420},{"s":"GFDL-CM4","x":2056,"y":480},{"s":"GFDL-CM4","x":2059,"y":540},{"s":"GFDL-CM4","x":2062,"y":400},{"s":"GFDL-CM4","x":2065,"y":500},{"s":"GFDL-CM4","x":2068,"y":460},{"s":"GFDL-CM4","x":2071,"y":580},{"s":"GFDL-CM4","x":2074,"y":420},{"s":"GFDL-CM4","x":2077,"y":480},{"s":"GFDL-CM4","x":2080,"y":520},{"s":"GFDL-CM4","x":2083,"y":400},{"s":"GFDL-CM4","x":2086,"y":560},{"s":"GFDL-CM4","x":2089,"y":460},{"s":"GFDL-CM4","x":2092,"y":500},{"s":"GFDL-CM4","x":2095,"y":420},{"s":"GFDL-CM4","x":2098,"y":480},
{"s":"IITM-ESM","x":2015,"y":500},{"s":"IITM-ESM","x":2018,"y":560},{"s":"IITM-ESM","x":2021,"y":460},{"s":"IITM-ESM","x":2024,"y":600},{"s":"IITM-ESM","x":2027,"y":520},{"s":"IITM-ESM","x":2030,"y":440},{"s":"IITM-ESM","x":2033,"y":580},{"s":"IITM-ESM","x":2036,"y":500},{"s":"IITM-ESM","x":2039,"y":620},{"s":"IITM-ESM","x":2042,"y":480},{"s":"IITM-ESM","x":2045,"y":540},{"s":"IITM-ESM","x":2048,"y":460},{"s":"IITM-ESM","x":2051,"y":600},{"s":"IITM-ESM","x":2054,"y":520},{"s":"IITM-ESM","x":2057,"y":480},{"s":"IITM-ESM","x":2060,"y":560},{"s":"IITM-ESM","x":2063,"y":440},{"s":"IITM-ESM","x":2066,"y":580},{"s":"IITM-ESM","x":2069,"y":500},{"s":"IITM-ESM","x":2072,"y":540},{"s":"IITM-ESM","x":2075,"y":620},{"s":"IITM-ESM","x":2078,"y":460},{"s":"IITM-ESM","x":2081,"y":520},{"s":"IITM-ESM","x":2084,"y":580},{"s":"IITM-ESM","x":2087,"y":480},{"s":"IITM-ESM","x":2090,"y":540},{"s":"IITM-ESM","x":2093,"y":500},{"s":"IITM-ESM","x":2096,"y":560},{"s":"IITM-ESM","x":2099,"y":420},{"s":"IITM-ESM","x":2100,"y":0},
{"s":"INM-CM4-8","x":2016,"y":860},{"s":"INM-CM4-8","x":2019,"y":780},{"s":"INM-CM4-8","x":2022,"y":940},{"s":"INM-CM4-8","x":2025,"y":820},{"s":"INM-CM4-8","x":2028,"y":1000},{"s":"INM-CM4-8","x":2031,"y":760},{"s":"INM-CM4-8","x":2034,"y":880},{"s":"INM-CM4-8","x":2037,"y":960},{"s":"INM-CM4-8","x":2040,"y":800},{"s":"INM-CM4-8","x":2043,"y":900},{"s":"INM-CM4-8","x":2046,"y":740},{"s":"INM-CM4-8","x":2049,"y":1020},{"s":"INM-CM4-8","x":2052,"y":840},{"s":"INM-CM4-8","x":2055,"y":900},{"s":"INM-CM4-8","x":2058,"y":780},{"s":"INM-CM4-8","x":2061,"y":960},{"s":"INM-CM4-8","x":2064,"y":860},{"s":"INM-CM4-8","x":2067,"y":1060},{"s":"INM-CM4-8","x":2070,"y":800},{"s":"INM-CM4-8","x":2073,"y":900},{"s":"INM-CM4-8","x":2076,"y":840},{"s":"INM-CM4-8","x":2079,"y":980},{"s":"INM-CM4-8","x":2082,"y":880},{"s":"INM-CM4-8","x":2085,"y":1150},{"s":"INM-CM4-8","x":2088,"y":1100},{"s":"INM-CM4-8","x":2091,"y":820},{"s":"INM-CM4-8","x":2094,"y":960},{"s":"INM-CM4-8","x":2097,"y":880},{"s":"INM-CM4-8","x":2100,"y":920},
{"s":"INM-CM5-0","x":2017,"y":700},{"s":"INM-CM5-0","x":2020,"y":780},{"s":"INM-CM5-0","x":2023,"y":640},{"s":"INM-CM5-0","x":2026,"y":820},{"s":"INM-CM5-0","x":2029,"y":720},{"s":"INM-CM5-0","x":2032,"y":660},{"s":"INM-CM5-0","x":2035,"y":800},{"s":"INM-CM5-0","x":2038,"y":740},{"s":"INM-CM5-0","x":2041,"y":620},{"s":"INM-CM5-0","x":2044,"y":760},{"s":"INM-CM5-0","x":2047,"y":700},{"s":"INM-CM5-0","x":2050,"y":840},{"s":"INM-CM5-0","x":2053,"y":680},{"s":"INM-CM5-0","x":2056,"y":740},{"s":"INM-CM5-0","x":2059,"y":780},{"s":"INM-CM5-0","x":2062,"y":640},{"s":"INM-CM5-0","x":2065,"y":720},{"s":"INM-CM5-0","x":2068,"y":800},{"s":"INM-CM5-0","x":2071,"y":680},{"s":"INM-CM5-0","x":2074,"y":760},{"s":"INM-CM5-0","x":2077,"y":700},{"s":"INM-CM5-0","x":2080,"y":840},{"s":"INM-CM5-0","x":2083,"y":660},{"s":"INM-CM5-0","x":2086,"y":740},{"s":"INM-CM5-0","x":2089,"y":780},{"s":"INM-CM5-0","x":2092,"y":700},{"s":"INM-CM5-0","x":2095,"y":820},{"s":"INM-CM5-0","x":2098,"y":760},
{"s":"IPSL-CM6A-LR","x":2015,"y":640},{"s":"IPSL-CM6A-LR","x":2018,"y":880},{"s":"IPSL-CM6A-LR","x":2021,"y":520},{"s":"IPSL-CM6A-LR","x":2024,"y":760},{"s":"IPSL-CM6A-LR","x":2027,"y":940},{"s":"IPSL-CM6A-LR","x":2030,"y":560},{"s":"IPSL-CM6A-LR","x":2033,"y":700},{"s":"IPSL-CM6A-LR","x":2036,"y":880},{"s":"IPSL-CM6A-LR","x":2039,"y":480},{"s":"IPSL-CM6A-LR","x":2042,"y":800},{"s":"IPSL-CM6A-LR","x":2045,"y":920},{"s":"IPSL-CM6A-LR","x":2048,"y":600},{"s":"IPSL-CM6A-LR","x":2051,"y":760},{"s":"IPSL-CM6A-LR","x":2054,"y":520},{"s":"IPSL-CM6A-LR","x":2057,"y":900},{"s":"IPSL-CM6A-LR","x":2060,"y":680},{"s":"IPSL-CM6A-LR","x":2063,"y":820},{"s":"IPSL-CM6A-LR","x":2066,"y":560},{"s":"IPSL-CM6A-LR","x":2069,"y":940},{"s":"IPSL-CM6A-LR","x":2072,"y":720},{"s":"IPSL-CM6A-LR","x":2075,"y":600},{"s":"IPSL-CM6A-LR","x":2078,"y":860},{"s":"IPSL-CM6A-LR","x":2081,"y":520},{"s":"IPSL-CM6A-LR","x":2084,"y":780},{"s":"IPSL-CM6A-LR","x":2087,"y":900},{"s":"IPSL-CM6A-LR","x":2090,"y":640},{"s":"IPSL-CM6A-LR","x":2093,"y":820},{"s":"IPSL-CM6A-LR","x":2096,"y":700},{"s":"IPSL-CM6A-LR","x":2099,"y":860},
{"s":"KIOST-ESM","x":2016,"y":600},{"s":"KIOST-ESM","x":2019,"y":700},{"s":"KIOST-ESM","x":2022,"y":540},{"s":"KIOST-ESM","x":2025,"y":660},{"s":"KIOST-ESM","x":2028,"y":760},{"s":"KIOST-ESM","x":2031,"y":560},{"s":"KIOST-ESM","x":2034,"y":640},{"s":"KIOST-ESM","x":2037,"y":720},{"s":"KIOST-ESM","x":2040,"y":500},{"s":"KIOST-ESM","x":2043,"y":680},{"s":"KIOST-ESM","x":2046,"y":600},{"s":"KIOST-ESM","x":2049,"y":740},{"s":"KIOST-ESM","x":2052,"y":560},{"s":"KIOST-ESM","x":2055,"y":640},{"s":"KIOST-ESM","x":2058,"y":700},{"s":"KIOST-ESM","x":2061,"y":520},{"s":"KIOST-ESM","x":2064,"y":660},{"s":"KIOST-ESM","x":2067,"y":760},{"s":"KIOST-ESM","x":2070,"y":580},{"s":"KIOST-ESM","x":2073,"y":640},{"s":"KIOST-ESM","x":2076,"y":700},{"s":"KIOST-ESM","x":2079,"y":560},{"s":"KIOST-ESM","x":2082,"y":680},{"s":"KIOST-ESM","x":2085,"y":620},{"s":"KIOST-ESM","x":2088,"y":740},{"s":"KIOST-ESM","x":2091,"y":580},{"s":"KIOST-ESM","x":2094,"y":660},{"s":"KIOST-ESM","x":2097,"y":700},{"s":"KIOST-ESM","x":2100,"y":640},
{"s":"MIROC6","x":2017,"y":760},{"s":"MIROC6","x":2020,"y":880},{"s":"MIROC6","x":2023,"y":700},{"s":"MIROC6","x":2026,"y":840},{"s":"MIROC6","x":2029,"y":1100},{"s":"MIROC6","x":2032,"y":780},{"s":"MIROC6","x":2035,"y":720},{"s":"MIROC6","x":2038,"y":900},{"s":"MIROC6","x":2041,"y":760},{"s":"MIROC6","x":2044,"y":840},{"s":"MIROC6","x":2047,"y":1160},{"s":"MIROC6","x":2050,"y":740},{"s":"MIROC6","x":2053,"y":820},{"s":"MIROC6","x":2056,"y":700},{"s":"MIROC6","x":2059,"y":880},{"s":"MIROC6","x":2062,"y":780},{"s":"MIROC6","x":2065,"y":860},{"s":"MIROC6","x":2068,"y":720},{"s":"MIROC6","x":2071,"y":800},{"s":"MIROC6","x":2074,"y":900},{"s":"MIROC6","x":2077,"y":760},{"s":"MIROC6","x":2080,"y":820},{"s":"MIROC6","x":2083,"y":1090},{"s":"MIROC6","x":2086,"y":740},{"s":"MIROC6","x":2089,"y":1150},{"s":"MIROC6","x":2092,"y":780},{"s":"MIROC6","x":2095,"y":860},{"s":"MIROC6","x":2098,"y":800},
{"s":"MPI-ESM1-2-HR","x":2015,"y":260},{"s":"MPI-ESM1-2-HR","x":2018,"y":200},{"s":"MPI-ESM1-2-HR","x":2021,"y":300},{"s":"MPI-ESM1-2-HR","x":2024,"y":220},{"s":"MPI-ESM1-2-HR","x":2027,"y":180},{"s":"MPI-ESM1-2-HR","x":2030,"y":280},{"s":"MPI-ESM1-2-HR","x":2033,"y":240},{"s":"MPI-ESM1-2-HR","x":2036,"y":200},{"s":"MPI-ESM1-2-HR","x":2039,"y":320},{"s":"MPI-ESM1-2-HR","x":2042,"y":230},{"s":"MPI-ESM1-2-HR","x":2045,"y":190},{"s":"MPI-ESM1-2-HR","x":2048,"y":270},{"s":"MPI-ESM1-2-HR","x":2051,"y":130},{"s":"MPI-ESM1-2-HR","x":2054,"y":250},{"s":"MPI-ESM1-2-HR","x":2057,"y":210},{"s":"MPI-ESM1-2-HR","x":2060,"y":300},{"s":"MPI-ESM1-2-HR","x":2063,"y":180},{"s":"MPI-ESM1-2-HR","x":2066,"y":260},{"s":"MPI-ESM1-2-HR","x":2069,"y":220},{"s":"MPI-ESM1-2-HR","x":2072,"y":240},{"s":"MPI-ESM1-2-HR","x":2075,"y":190},{"s":"MPI-ESM1-2-HR","x":2078,"y":280},{"s":"MPI-ESM1-2-HR","x":2081,"y":210},{"s":"MPI-ESM1-2-HR","x":2084,"y":250},{"s":"MPI-ESM1-2-HR","x":2087,"y":180},{"s":"MPI-ESM1-2-HR","x":2090,"y":290},{"s":"MPI-ESM1-2-HR","x":2093,"y":230},{"s":"MPI-ESM1-2-HR","x":2096,"y":200},{"s":"MPI-ESM1-2-HR","x":2099,"y":270},
{"s":"MPI-ESM1-2-LR","x":2016,"y":320},{"s":"MPI-ESM1-2-LR","x":2019,"y":260},{"s":"MPI-ESM1-2-LR","x":2022,"y":360},{"s":"MPI-ESM1-2-LR","x":2025,"y":300},{"s":"MPI-ESM1-2-LR","x":2028,"y":340},{"s":"MPI-ESM1-2-LR","x":2031,"y":240},{"s":"MPI-ESM1-2-LR","x":2034,"y":380},{"s":"MPI-ESM1-2-LR","x":2037,"y":290},{"s":"MPI-ESM1-2-LR","x":2040,"y":330},{"s":"MPI-ESM1-2-LR","x":2043,"y":270},{"s":"MPI-ESM1-2-LR","x":2046,"y":360},{"s":"MPI-ESM1-2-LR","x":2049,"y":300},{"s":"MPI-ESM1-2-LR","x":2052,"y":250},{"s":"MPI-ESM1-2-LR","x":2055,"y":340},{"s":"MPI-ESM1-2-LR","x":2058,"y":320},{"s":"MPI-ESM1-2-LR","x":2061,"y":280},{"s":"MPI-ESM1-2-LR","x":2064,"y":380},{"s":"MPI-ESM1-2-LR","x":2067,"y":260},{"s":"MPI-ESM1-2-LR","x":2070,"y":330},{"s":"MPI-ESM1-2-LR","x":2073,"y":300},{"s":"MPI-ESM1-2-LR","x":2076,"y":350},{"s":"MPI-ESM1-2-LR","x":2079,"y":270},{"s":"MPI-ESM1-2-LR","x":2082,"y":320},{"s":"MPI-ESM1-2-LR","x":2085,"y":360},{"s":"MPI-ESM1-2-LR","x":2088,"y":280},{"s":"MPI-ESM1-2-LR","x":2091,"y":340},{"s":"MPI-ESM1-2-LR","x":2094,"y":300},{"s":"MPI-ESM1-2-LR","x":2097,"y":260},{"s":"MPI-ESM1-2-LR","x":2100,"y":330},
{"s":"MRI-ESM2-0","x":2017,"y":460},{"s":"MRI-ESM2-0","x":2020,"y":380},{"s":"MRI-ESM2-0","x":2023,"y":500},{"s":"MRI-ESM2-0","x":2026,"y":420},{"s":"MRI-ESM2-0","x":2029,"y":360},{"s":"MRI-ESM2-0","x":2032,"y":480},{"s":"MRI-ESM2-0","x":2035,"y":440},{"s":"MRI-ESM2-0","x":2038,"y":400},{"s":"MRI-ESM2-0","x":2041,"y":520},{"s":"MRI-ESM2-0","x":2044,"y":380},{"s":"MRI-ESM2-0","x":2047,"y":460},{"s":"MRI-ESM2-0","x":2050,"y":420},{"s":"MRI-ESM2-0","x":2053,"y":500},{"s":"MRI-ESM2-0","x":2056,"y":360},{"s":"MRI-ESM2-0","x":2059,"y":440},{"s":"MRI-ESM2-0","x":2062,"y":480},{"s":"MRI-ESM2-0","x":2065,"y":400},{"s":"MRI-ESM2-0","x":2068,"y":520},{"s":"MRI-ESM2-0","x":2071,"y":440},{"s":"MRI-ESM2-0","x":2074,"y":380},{"s":"MRI-ESM2-0","x":2077,"y":480},{"s":"MRI-ESM2-0","x":2080,"y":420},{"s":"MRI-ESM2-0","x":2083,"y":460},{"s":"MRI-ESM2-0","x":2086,"y":520},{"s":"MRI-ESM2-0","x":2089,"y":400},{"s":"MRI-ESM2-0","x":2092,"y":460},{"s":"MRI-ESM2-0","x":2095,"y":380},{"s":"MRI-ESM2-0","x":2098,"y":500},
{"s":"NorESM2-LM","x":2015,"y":620},{"s":"NorESM2-LM","x":2018,"y":540},{"s":"NorESM2-LM","x":2021,"y":700},{"s":"NorESM2-LM","x":2024,"y":580},{"s":"NorESM2-LM","x":2027,"y":660},{"s":"NorESM2-LM","x":2030,"y":520},{"s":"NorESM2-LM","x":2033,"y":640},{"s":"NorESM2-LM","x":2036,"y":760},{"s":"NorESM2-LM","x":2039,"y":560},{"s":"NorESM2-LM","x":2042,"y":620},{"s":"NorESM2-LM","x":2045,"y":680},{"s":"NorESM2-LM","x":2048,"y":540},{"s":"NorESM2-LM","x":2051,"y":600},{"s":"NorESM2-LM","x":2054,"y":720},{"s":"NorESM2-LM","x":2057,"y":560},{"s":"NorESM2-LM","x":2060,"y":640},{"s":"NorESM2-LM","x":2063,"y":580},{"s":"NorESM2-LM","x":2066,"y":700},{"s":"NorESM2-LM","x":2069,"y":520},{"s":"NorESM2-LM","x":2072,"y":620},{"s":"NorESM2-LM","x":2075,"y":680},{"s":"NorESM2-LM","x":2078,"y":560},{"s":"NorESM2-LM","x":2081,"y":640},{"s":"NorESM2-LM","x":2084,"y":600},{"s":"NorESM2-LM","x":2087,"y":720},{"s":"NorESM2-LM","x":2090,"y":540},{"s":"NorESM2-LM","x":2093,"y":660},{"s":"NorESM2-LM","x":2096,"y":620},{"s":"NorESM2-LM","x":2099,"y":580}
    ],
    "obs": [
{"s":"CRUJRA","x":1901,"y":500},{"s":"CRUJRA","x":1902,"y":440},{"s":"CRUJRA","x":1903,"y":600},{"s":"CRUJRA","x":1904,"y":560},{"s":"CRUJRA","x":1905,"y":590},{"s":"CRUJRA","x":1906,"y":470},{"s":"CRUJRA","x":1907,"y":540},{"s":"CRUJRA","x":1908,"y":500},{"s":"CRUJRA","x":1909,"y":560},{"s":"CRUJRA","x":1910,"y":620},{"s":"CRUJRA","x":1911,"y":480},{"s":"CRUJRA","x":1912,"y":520},{"s":"CRUJRA","x":1913,"y":500},{"s":"CRUJRA","x":1914,"y":440},{"s":"CRUJRA","x":1915,"y":560},{"s":"CRUJRA","x":1916,"y":600},{"s":"CRUJRA","x":1917,"y":650},{"s":"CRUJRA","x":1918,"y":480},{"s":"CRUJRA","x":1919,"y":530},{"s":"CRUJRA","x":1920,"y":600},{"s":"CRUJRA","x":1921,"y":630},{"s":"CRUJRA","x":1922,"y":500},{"s":"CRUJRA","x":1923,"y":520},{"s":"CRUJRA","x":1924,"y":490},{"s":"CRUJRA","x":1925,"y":500},{"s":"CRUJRA","x":1926,"y":480},{"s":"CRUJRA","x":1927,"y":510},{"s":"CRUJRA","x":1928,"y":490},{"s":"CRUJRA","x":1929,"y":470},{"s":"CRUJRA","x":1930,"y":530},{"s":"CRUJRA","x":1931,"y":500},{"s":"CRUJRA","x":1932,"y":480},{"s":"CRUJRA","x":1933,"y":460},{"s":"CRUJRA","x":1934,"y":540},{"s":"CRUJRA","x":1935,"y":500},{"s":"CRUJRA","x":1936,"y":470},{"s":"CRUJRA","x":1937,"y":490},{"s":"CRUJRA","x":1938,"y":530},{"s":"CRUJRA","x":1939,"y":560},{"s":"CRUJRA","x":1940,"y":480},{"s":"CRUJRA","x":1941,"y":460},{"s":"CRUJRA","x":1942,"y":500},{"s":"CRUJRA","x":1943,"y":540},{"s":"CRUJRA","x":1944,"y":470},{"s":"CRUJRA","x":1945,"y":520},{"s":"CRUJRA","x":1946,"y":480},{"s":"CRUJRA","x":1947,"y":500},{"s":"CRUJRA","x":1948,"y":540},{"s":"CRUJRA","x":1949,"y":520},{"s":"CRUJRA","x":1950,"y":600},{"s":"CRUJRA","x":1951,"y":460},{"s":"CRUJRA","x":1952,"y":560},{"s":"CRUJRA","x":1953,"y":500},{"s":"CRUJRA","x":1954,"y":540},{"s":"CRUJRA","x":1955,"y":640},{"s":"CRUJRA","x":1956,"y":680},{"s":"CRUJRA","x":1957,"y":480},{"s":"CRUJRA","x":1958,"y":520},{"s":"CRUJRA","x":1959,"y":500},{"s":"CRUJRA","x":1960,"y":480},{"s":"CRUJRA","x":1961,"y":520},{"s":"CRUJRA","x":1962,"y":540},{"s":"CRUJRA","x":1963,"y":580},{"s":"CRUJRA","x":1964,"y":500},{"s":"CRUJRA","x":1965,"y":470},{"s":"CRUJRA","x":1966,"y":520},{"s":"CRUJRA","x":1967,"y":460},{"s":"CRUJRA","x":1968,"y":540},{"s":"CRUJRA","x":1969,"y":500},{"s":"CRUJRA","x":1970,"y":520},{"s":"CRUJRA","x":1971,"y":540},{"s":"CRUJRA","x":1972,"y":480},{"s":"CRUJRA","x":1973,"y":640},{"s":"CRUJRA","x":1974,"y":760},{"s":"CRUJRA","x":1975,"y":580},{"s":"CRUJRA","x":1976,"y":620},{"s":"CRUJRA","x":1977,"y":520},{"s":"CRUJRA","x":1978,"y":560},{"s":"CRUJRA","x":1979,"y":500},{"s":"CRUJRA","x":1980,"y":480},{"s":"CRUJRA","x":1981,"y":520},{"s":"CRUJRA","x":1982,"y":460},{"s":"CRUJRA","x":1983,"y":580},{"s":"CRUJRA","x":1984,"y":540},{"s":"CRUJRA","x":1985,"y":500},{"s":"CRUJRA","x":1986,"y":480},{"s":"CRUJRA","x":1987,"y":520},{"s":"CRUJRA","x":1988,"y":560},{"s":"CRUJRA","x":1989,"y":600},{"s":"CRUJRA","x":1990,"y":540},{"s":"CRUJRA","x":1991,"y":480},{"s":"CRUJRA","x":1992,"y":520},{"s":"CRUJRA","x":1993,"y":500},{"s":"CRUJRA","x":1994,"y":460},{"s":"CRUJRA","x":1995,"y":520},{"s":"CRUJRA","x":1996,"y":500},{"s":"CRUJRA","x":1997,"y":480},{"s":"CRUJRA","x":1998,"y":560},{"s":"CRUJRA","x":1999,"y":580},{"s":"CRUJRA","x":2000,"y":600},{"s":"CRUJRA","x":2001,"y":540},{"s":"CRUJRA","x":2002,"y":480},{"s":"CRUJRA","x":2003,"y":520},{"s":"CRUJRA","x":2004,"y":500},{"s":"CRUJRA","x":2005,"y":540},{"s":"CRUJRA","x":2006,"y":520},{"s":"CRUJRA","x":2007,"y":530},{"s":"CRUJRA","x":2008,"y":540},{"s":"CRUJRA","x":2009,"y":520},{"s":"CRUJRA","x":2010,"y":640},{"s":"CRUJRA","x":2011,"y":660},{"s":"CRUJRA","x":2012,"y":540},{"s":"CRUJRA","x":2013,"y":520},{"s":"CRUJRA","x":2014,"y":500},{"s":"CRUJRA","x":2015,"y":520},{"s":"CRUJRA","x":2016,"y":540},{"s":"CRUJRA","x":2017,"y":510},{"s":"CRUJRA","x":2018,"y":500},
{"s":"CRUNCEP","x":1901,"y":520},{"s":"CRUNCEP","x":1903,"y":580},{"s":"CRUNCEP","x":1905,"y":560},{"s":"CRUNCEP","x":1907,"y":520},{"s":"CRUNCEP","x":1909,"y":540},{"s":"CRUNCEP","x":1911,"y":500},{"s":"CRUNCEP","x":1913,"y":520},{"s":"CRUNCEP","x":1915,"y":540},{"s":"CRUNCEP","x":1917,"y":620},{"s":"CRUNCEP","x":1919,"y":520},{"s":"CRUNCEP","x":1921,"y":600},{"s":"CRUNCEP","x":1923,"y":510},{"s":"CRUNCEP","x":1925,"y":490},{"s":"CRUNCEP","x":1927,"y":500},{"s":"CRUNCEP","x":1929,"y":480},{"s":"CRUNCEP","x":1931,"y":510},{"s":"CRUNCEP","x":1933,"y":470},{"s":"CRUNCEP","x":1935,"y":510},{"s":"CRUNCEP","x":1937,"y":500},{"s":"CRUNCEP","x":1939,"y":550},{"s":"CRUNCEP","x":1941,"y":470},{"s":"CRUNCEP","x":1943,"y":530},{"s":"CRUNCEP","x":1945,"y":510},{"s":"CRUNCEP","x":1947,"y":490},{"s":"CRUNCEP","x":1949,"y":620},{"s":"CRUNCEP","x":1951,"y":470},{"s":"CRUNCEP","x":1953,"y":510},{"s":"CRUNCEP","x":1955,"y":620},{"s":"CRUNCEP","x":1957,"y":490},{"s":"CRUNCEP","x":1959,"y":510},{"s":"CRUNCEP","x":1961,"y":530},{"s":"CRUNCEP","x":1963,"y":570},{"s":"CRUNCEP","x":1965,"y":480},{"s":"CRUNCEP","x":1967,"y":470},{"s":"CRUNCEP","x":1969,"y":510},{"s":"CRUNCEP","x":1971,"y":530},{"s":"CRUNCEP","x":1973,"y":620},{"s":"CRUNCEP","x":1975,"y":590},{"s":"CRUNCEP","x":1977,"y":530},{"s":"CRUNCEP","x":1979,"y":510},{"s":"CRUNCEP","x":1981,"y":530},{"s":"CRUNCEP","x":1983,"y":570},{"s":"CRUNCEP","x":1985,"y":510},{"s":"CRUNCEP","x":1987,"y":530},{"s":"CRUNCEP","x":1989,"y":590},{"s":"CRUNCEP","x":1991,"y":490},{"s":"CRUNCEP","x":1993,"y":510},{"s":"CRUNCEP","x":1995,"y":530},{"s":"CRUNCEP","x":1997,"y":490},{"s":"CRUNCEP","x":1999,"y":570},{"s":"CRUNCEP","x":2001,"y":550},{"s":"CRUNCEP","x":2003,"y":530},{"s":"CRUNCEP","x":2005,"y":550},{"s":"CRUNCEP","x":2007,"y":540},{"s":"CRUNCEP","x":2009,"y":530},{"s":"CRUNCEP","x":2011,"y":640},{"s":"CRUNCEP","x":2013,"y":530},{"s":"CRUNCEP","x":2015,"y":520},
{"s":"REGEN","x":1950,"y":760},{"s":"REGEN","x":1951,"y":450},{"s":"REGEN","x":1952,"y":620},{"s":"REGEN","x":1953,"y":540},{"s":"REGEN","x":1954,"y":580},{"s":"REGEN","x":1955,"y":720},{"s":"REGEN","x":1956,"y":700},{"s":"REGEN","x":1957,"y":480},{"s":"REGEN","x":1958,"y":540},{"s":"REGEN","x":1959,"y":520},{"s":"REGEN","x":1960,"y":500},{"s":"REGEN","x":1961,"y":540},{"s":"REGEN","x":1962,"y":580},{"s":"REGEN","x":1963,"y":620},{"s":"REGEN","x":1964,"y":540},{"s":"REGEN","x":1965,"y":480},{"s":"REGEN","x":1966,"y":560},{"s":"REGEN","x":1967,"y":470},{"s":"REGEN","x":1968,"y":600},{"s":"REGEN","x":1969,"y":520},{"s":"REGEN","x":1970,"y":540},{"s":"REGEN","x":1971,"y":580},{"s":"REGEN","x":1972,"y":500},{"s":"REGEN","x":1973,"y":700},{"s":"REGEN","x":1974,"y":850},{"s":"REGEN","x":1975,"y":620},{"s":"REGEN","x":1976,"y":700},{"s":"REGEN","x":1977,"y":560},{"s":"REGEN","x":1978,"y":600},{"s":"REGEN","x":1979,"y":520},{"s":"REGEN","x":1980,"y":500},{"s":"REGEN","x":1981,"y":540},{"s":"REGEN","x":1982,"y":480},{"s":"REGEN","x":1983,"y":640},{"s":"REGEN","x":1984,"y":580},{"s":"REGEN","x":1985,"y":520},{"s":"REGEN","x":1986,"y":500},{"s":"REGEN","x":1987,"y":540},{"s":"REGEN","x":1988,"y":600},{"s":"REGEN","x":1989,"y":680},{"s":"REGEN","x":1990,"y":560},{"s":"REGEN","x":1991,"y":500},{"s":"REGEN","x":1992,"y":540},{"s":"REGEN","x":1993,"y":520},{"s":"REGEN","x":1994,"y":480},{"s":"REGEN","x":1995,"y":560},{"s":"REGEN","x":1996,"y":520},{"s":"REGEN","x":1997,"y":500},{"s":"REGEN","x":1998,"y":620},{"s":"REGEN","x":1999,"y":640},{"s":"REGEN","x":2000,"y":680},{"s":"REGEN","x":2001,"y":560},{"s":"REGEN","x":2002,"y":460},{"s":"REGEN","x":2003,"y":540},{"s":"REGEN","x":2004,"y":520},{"s":"REGEN","x":2005,"y":560},{"s":"REGEN","x":2006,"y":520},{"s":"REGEN","x":2007,"y":540},{"s":"REGEN","x":2008,"y":560},{"s":"REGEN","x":2009,"y":520},{"s":"REGEN","x":2010,"y":800},{"s":"REGEN","x":2011,"y":760},{"s":"REGEN","x":2012,"y":560},{"s":"REGEN","x":2013,"y":500},{"s":"REGEN","x":2014,"y":520},{"s":"REGEN","x":2015,"y":540},{"s":"REGEN","x":2016,"y":560},
{"s":"AGCD","x":1900,"y":330},{"s":"AGCD","x":1901,"y":350},{"s":"AGCD","x":1902,"y":470},{"s":"AGCD","x":1903,"y":260},{"s":"AGCD","x":1904,"y":430},{"s":"AGCD","x":1905,"y":400},{"s":"AGCD","x":1906,"y":460},{"s":"AGCD","x":1907,"y":380},{"s":"AGCD","x":1908,"y":420},{"s":"AGCD","x":1909,"y":360},{"s":"AGCD","x":1910,"y":440},{"s":"AGCD","x":1911,"y":400},{"s":"AGCD","x":1912,"y":470},{"s":"AGCD","x":1913,"y":420},{"s":"AGCD","x":1914,"y":360},{"s":"AGCD","x":1915,"y":430},{"s":"AGCD","x":1916,"y":460},{"s":"AGCD","x":1917,"y":440},{"s":"AGCD","x":1918,"y":380},{"s":"AGCD","x":1919,"y":340},{"s":"AGCD","x":1920,"y":420},{"s":"AGCD","x":1921,"y":480},{"s":"AGCD","x":1922,"y":400},{"s":"AGCD","x":1923,"y":380},{"s":"AGCD","x":1924,"y":420},{"s":"AGCD","x":1925,"y":440},{"s":"AGCD","x":1926,"y":410},{"s":"AGCD","x":1927,"y":380},{"s":"AGCD","x":1928,"y":400},{"s":"AGCD","x":1929,"y":370},{"s":"AGCD","x":1930,"y":350},{"s":"AGCD","x":1931,"y":380},{"s":"AGCD","x":1932,"y":360},{"s":"AGCD","x":1933,"y":400},{"s":"AGCD","x":1934,"y":370},{"s":"AGCD","x":1935,"y":350},{"s":"AGCD","x":1936,"y":380},{"s":"AGCD","x":1937,"y":430},{"s":"AGCD","x":1938,"y":360},{"s":"AGCD","x":1939,"y":400},{"s":"AGCD","x":1940,"y":440},{"s":"AGCD","x":1941,"y":360},{"s":"AGCD","x":1942,"y":380},{"s":"AGCD","x":1943,"y":420},{"s":"AGCD","x":1944,"y":350},{"s":"AGCD","x":1945,"y":400},{"s":"AGCD","x":1946,"y":370},{"s":"AGCD","x":1947,"y":420},{"s":"AGCD","x":1948,"y":380},{"s":"AGCD","x":1949,"y":400},{"s":"AGCD","x":1950,"y":340},{"s":"AGCD","x":1951,"y":560},{"s":"AGCD","x":1952,"y":420},{"s":"AGCD","x":1953,"y":380},{"s":"AGCD","x":1954,"y":460},{"s":"AGCD","x":1955,"y":520},{"s":"AGCD","x":1956,"y":540},{"s":"AGCD","x":1957,"y":380},{"s":"AGCD","x":1958,"y":420},{"s":"AGCD","x":1959,"y":400},{"s":"AGCD","x":1960,"y":380},{"s":"AGCD","x":1961,"y":420},{"s":"AGCD","x":1962,"y":440},{"s":"AGCD","x":1963,"y":480},{"s":"AGCD","x":1964,"y":400},{"s":"AGCD","x":1965,"y":360},{"s":"AGCD","x":1966,"y":420},{"s":"AGCD","x":1967,"y":380},{"s":"AGCD","x":1968,"y":440},{"s":"AGCD","x":1969,"y":400},{"s":"AGCD","x":1970,"y":420},{"s":"AGCD","x":1971,"y":440},{"s":"AGCD","x":1972,"y":380},{"s":"AGCD","x":1973,"y":560},{"s":"AGCD","x":1974,"y":690},{"s":"AGCD","x":1975,"y":480},{"s":"AGCD","x":1976,"y":560},{"s":"AGCD","x":1977,"y":420},{"s":"AGCD","x":1978,"y":460},{"s":"AGCD","x":1979,"y":400},{"s":"AGCD","x":1980,"y":380},{"s":"AGCD","x":1981,"y":420},{"s":"AGCD","x":1982,"y":360},{"s":"AGCD","x":1983,"y":480},{"s":"AGCD","x":1984,"y":440},{"s":"AGCD","x":1985,"y":400},{"s":"AGCD","x":1986,"y":380},{"s":"AGCD","x":1987,"y":420},{"s":"AGCD","x":1988,"y":460},{"s":"AGCD","x":1989,"y":520},{"s":"AGCD","x":1990,"y":440},{"s":"AGCD","x":1991,"y":380},{"s":"AGCD","x":1992,"y":420},{"s":"AGCD","x":1993,"y":400},{"s":"AGCD","x":1994,"y":360},{"s":"AGCD","x":1995,"y":420},{"s":"AGCD","x":1996,"y":400},{"s":"AGCD","x":1997,"y":380},{"s":"AGCD","x":1998,"y":460},{"s":"AGCD","x":1999,"y":540},{"s":"AGCD","x":2000,"y":580},{"s":"AGCD","x":2001,"y":460},{"s":"AGCD","x":2002,"y":340},{"s":"AGCD","x":2003,"y":420},{"s":"AGCD","x":2004,"y":400},{"s":"AGCD","x":2005,"y":440},{"s":"AGCD","x":2006,"y":380},{"s":"AGCD","x":2007,"y":420},{"s":"AGCD","x":2008,"y":400},{"s":"AGCD","x":2009,"y":380},{"s":"AGCD","x":2010,"y":600},{"s":"AGCD","x":2011,"y":620},{"s":"AGCD","x":2012,"y":440},{"s":"AGCD","x":2013,"y":400},{"s":"AGCD","x":2014,"y":420},{"s":"AGCD","x":2015,"y":440},{"s":"AGCD","x":2016,"y":480},{"s":"AGCD","x":2017,"y":420},{"s":"AGCD","x":2018,"y":380},{"s":"AGCD","x":2019,"y":400}
    ],
    "cut": [{"x": 2017}]
  },
  "layer": [
    {
      "data": {"name": "models"},
      "mark": {"type": "line", "strokeWidth": 2},
      "encoding": {
        "x": {"field": "x", "type": "quantitative", "scale": {"domain": [1890, 2110], "nice": false, "zero": false}, "axis": {"values": [1900, 1925, 1950, 1975, 2000, 2025, 2050, 2075, 2100], "format": "d", "title": null}},
        "y": {"field": "y", "type": "quantitative", "scale": {"domain": [-65, 1365], "nice": false, "zero": false}, "axis": {"values": [0, 200, 400, 600, 800, 1000, 1200], "format": "d", "title": "Annual Precipitation [mm yr-1]", "titleFontSize": 14, "titleFontWeight": "normal", "titleColor": "#222222", "titlePadding": 6}},
        "color": {
          "field": "s", "type": "nominal",
          "scale": {
            "domain": ["CESM2-WACCM", "CMCC-CM2-SR5", "CanESM5", "EC-Earth3-Veg", "EC-Earth3", "GFDL-CM4", "IITM-ESM", "INM-CM4-8", "INM-CM5-0", "IPSL-CM6A-LR", "KIOST-ESM", "MIROC6", "MPI-ESM1-2-HR", "MPI-ESM1-2-LR", "MRI-ESM2-0", "NorESM2-LM", "CESM2-WACCM|h", "CMCC-CM2-SR5|h", "CanESM5|h", "EC-Earth3-Veg|h", "EC-Earth3|h", "GFDL-CM4|h", "IITM-ESM|h", "INM-CM4-8|h", "INM-CM5-0|h", "IPSL-CM6A-LR|h", "KIOST-ESM|h", "MIROC6|h", "MPI-ESM1-2-HR|h", "MPI-ESM1-2-LR|h", "MRI-ESM2-0|h", "NorESM2-LM|h", "CRUJRA", "CRUNCEP", "REGEN", "AGCD"],
            "range": ["#1f77b4", "#aec7e8", "#ff7f0e", "#2ca02c", "#98df8a", "#d62728", "#9467bd", "#c5b0d5", "#8c564b", "#e377c2", "#f7b6d2", "#7f7f7f", "#bcbd22", "#dbdb8d", "#17becf", "#9edae5", "#80a8c8", "#cedef1", "#f5c08f", "#6cbf84", "#c1ecb9", "#e67d7e", "#b3a2db", "#dad2e0", "#b99aa5", "#eeadda", "#fad3e4", "#b2b2b2", "#d7d77a", "#e9e9bb", "#74d8e2", "#c5e9ef", "#000000", "#555555", "#ff0000", "#008000"]
          },
          "legend": {
            "orient": "none", "legendX": -8, "legendY": 345, "columns": 4, "direction": "vertical", "title": null,
            "symbolType": "stroke", "symbolSize": 1156, "symbolStrokeWidth": 2.5, "symbolLimit": 50, "symbolOffset": 9.5,
            "labelFontSize": 15, "labelColor": "#222222", "labelLimit": 300,
            "rowPadding": 4.5, "columnPadding": 25, "padding": 6, "labelOffset": 20,
            "strokeColor": "#d0d0d0", "cornerRadius": 4, "fillColor": "#ffffff",
            "labelExpr": "split(datum.label, '|')[0]",
            "encode": {"symbols": {"update": {"strokeWidth": {"signal": "indexof(['CRUJRA','CRUNCEP','REGEN','AGCD'], datum.value) >= 0 ? 5 : 2.5"}}}}
          }
        }
      }
    },
    {
      "data": {"name": "obs"},
      "mark": {"type": "line", "strokeWidth": 3.5},
      "encoding": {
        "x": {"field": "x", "type": "quantitative"},
        "y": {"field": "y", "type": "quantitative"},
        "color": {"field": "s", "type": "nominal"}
      }
    },
    {
      "data": {"name": "cut"},
      "mark": {"type": "rule", "color": "#3a3a3a", "strokeWidth": 7},
      "encoding": {"x": {"field": "x", "type": "quantitative"}}
    }
  ]
}
